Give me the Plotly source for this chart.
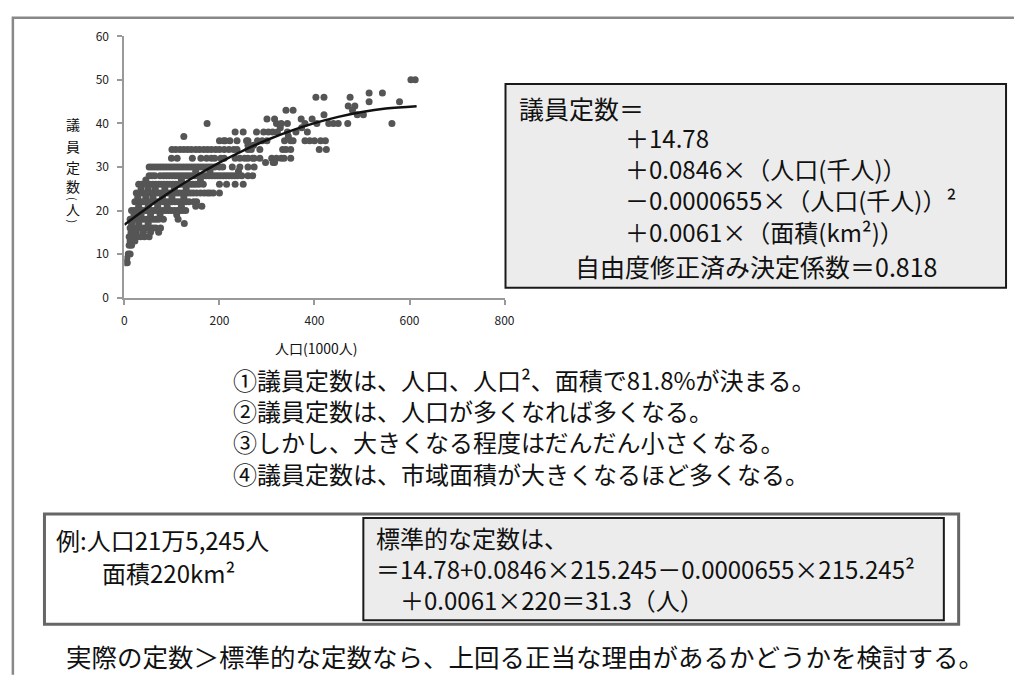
import plotly.graph_objects as go

W, H = 1019, 677
JP = "Noto Sans CJK JP"

# Council seats vs. population (thousands), grouped by seat count
seat_levels = [50, 47, 46, 45, 44, 43, 42, 41, 40, 39, 38, 37, 36, 35, 34, 32, 31, 30, 29,
               28, 27, 26, 25, 24, 23, 22, 21, 20, 19, 18, 17, 16, 15, 14, 13, 12, 10, 9, 8]
pop_by_level = [
    [603, 612],
    [515, 543],
    [403, 420, 475],
    [515, 579],
    [471, 485],
    [340, 355, 480],
    [420, 490, 503],
    [300, 316, 372, 395],
    [174, 320, 330, 343, 380, 405, 430, 440, 450, 470, 563],
    [328, 373],
    [233, 250, 278, 293, 303, 312, 322, 343, 361, 385],
    [125, 345],
    [200, 209, 212, 222, 237, 257, 260, 280, 290, 300, 337, 350, 355, 380, 390, 400, 413, 423],
    [260, 263, 272],
    [100, 108, 117, 125, 133, 141, 150, 158, 167, 175, 183, 192, 200, 210, 220, 230, 237,
     260, 267, 285, 333, 340, 350, 410, 425],
    [99, 111, 143, 161, 173, 183, 190, 203, 210, 233, 243, 253, 260, 270, 273, 285, 310,
     320, 330, 336, 350],
    [297, 313, 316],
    [52, 58, 64, 70, 76, 82, 88, 94, 100, 106, 112, 118, 124, 130, 136, 142, 148, 154, 160,
     166, 172, 178, 184, 190, 200, 207, 227, 243, 260, 273],
    [150, 180, 240],
    [52, 58, 64, 75, 82, 88, 94, 100, 106, 112, 118, 124, 130, 136, 142, 148, 154, 160, 166,
     172, 178, 184, 190, 196, 202, 208, 214, 220, 226, 232, 238, 247, 260, 270],
    [45, 120, 160],
    [30, 36, 42, 48, 54, 60, 66, 72, 78, 84, 90, 96, 102, 108, 114, 120, 126, 132, 138, 144,
     150, 157, 166, 200, 215, 233, 250],
    [35, 50, 65, 85, 105, 130],
    [25, 31, 37, 43, 49, 55, 61, 67, 73, 79, 85, 91, 97, 103, 109, 115, 121, 127, 133, 139,
     145, 152, 160, 168, 175, 180, 187, 200],
    [28, 45, 60, 80, 100, 125],
    [22, 28, 34, 40, 46, 52, 58, 64, 70, 76, 82, 88, 94, 100, 106, 112, 118, 124, 130, 136,
     146, 152],
    [30, 50, 70, 90, 120, 150, 163],
    [15, 21, 27, 33, 39, 45, 51, 57, 63, 69, 75, 81, 87, 93, 99, 105, 111, 117, 123, 129],
    [20, 35, 55, 75, 110],
    [12, 18, 24, 30, 36, 42, 48, 54, 60, 66, 72, 82, 113],
    [15, 30, 50, 126],
    [12, 18, 24, 30, 36, 42, 48, 54, 60, 66, 76],
    [14, 25, 40, 55, 72],
    [10, 18, 26, 34, 42, 52],
    [12, 22],
    [10, 15],
    [8, 12],
    [5],
    [2, 6],
]

# Regression coefficients
INTERCEPT = 14.78
COEF_POP = 0.0846
COEF_POP2 = -0.0000655
COEF_AREA = 0.0061
MEAN_AREA_KM2 = 315
curve_pop = [0, 25, 50, 75, 100, 150, 200, 250, 300, 350, 400, 450, 500, 550, 615]

x_ticks = [0, 200, 400, 600, 800]
y_ticks = [0, 10, 20, 30, 40, 50, 60]

formula_terms = [
    "＋14.78",
    "＋0.0846×（人口(千人)）",
    "－0.0000655×（人口(千人)）²",
    "＋0.0061×（面積(km²)）",
]
findings = [
    "①議員定数は、人口、人口²、面積で81.8%が決まる。",
    "②議員定数は、人口が多くなれば多くなる。",
    "③しかし、大きくなる程度はだんだん小さくなる。",
    "④議員定数は、市域面積が大きくなるほど多くなる。",
]
example_calc = [
    "標準的な定数は、",
    "＝14.78+0.0846×215.245－0.0000655×215.245²",
    "　＋0.0061×220＝31.3（人）",
]

pop_pts, seat_pts = [], []
for s, pops in zip(seat_levels, pop_by_level):
    for p in pops:
        pop_pts.append(p)
        seat_pts.append(s)

curve_seats = [INTERCEPT + COEF_AREA * MEAN_AREA_KM2 + COEF_POP * p + COEF_POP2 * p * p
               for p in curve_pop]


def px(x):
    return x / W


def py(y):
    return 1 - y / H


fig = go.Figure()
fig.add_trace(go.Scatter(
    x=pop_pts, y=seat_pts, mode="markers",
    marker=dict(color="#555555", size=7, line=dict(width=0)),
    showlegend=False, hoverinfo="skip",
))
fig.add_trace(go.Scatter(
    x=curve_pop, y=curve_seats, mode="lines", line_shape="spline",
    line=dict(color="#111111", width=2.5),
    showlegend=False, hoverinfo="skip",
))

axis_common = dict(
    showgrid=False, zeroline=False, showline=True, linecolor="#999999", linewidth=2,
    ticks="outside", ticklen=5, tickcolor="#999999", tickwidth=1.5,
    tickfont=dict(family=JP, size=12, color="#222222"),
)
fig.update_xaxes(range=[0, 800], tickvals=x_ticks, domain=[px(123), px(508)],
                 ticklabelstandoff=6, **axis_common)
fig.update_yaxes(range=[0, 60], tickvals=y_ticks, domain=[py(295), py(27)],
                 ticklabelstandoff=6, **axis_common)

shapes = [
    # outer frame (open to the right/bottom)
    dict(type="path", xref="paper", yref="paper",
         path=f"M {px(10)} {py(H + 5)} L {px(10)} {py(8)} L {px(W + 5)} {py(8)}",
         line=dict(color="#888888", width=2.5)),
    # regression formula box
    dict(type="rect", xref="paper", yref="paper",
         x0=px(509), x1=px(1016), y0=py(285), y1=py(76),
         fillcolor="#ececec", line=dict(color="#1a1a1a", width=2), layer="below"),
    # example outer box
    dict(type="rect", xref="paper", yref="paper",
         x0=px(42), x1=px(968), y0=py(630), y1=py(517),
         fillcolor="white", line=dict(color="#666666", width=3), layer="below"),
    # example inner box
    dict(type="rect", xref="paper", yref="paper",
         x0=px(365), x1=px(953), y0=py(626), y1=py(521),
         fillcolor="#ececec", line=dict(color="#1a1a1a", width=2), layer="below"),
]

annotations = []


def label(text, x, y, size, anchor="left", color="#111111", angle=0):
    annotations.append(dict(
        text=text, x=px(x), y=py(y), xref="paper", yref="paper",
        xanchor=anchor, yanchor="middle", align="left", showarrow=False,
        textangle=angle, font=dict(family=JP, size=size, color=color),
    ))


# axis titles
label("人口(1000人)", 318, 347, 14, anchor="center")
for ch, yy in [("議", 117), ("員", 139), ("定", 161), ("数", 181), ("人", 204)]:
    label(ch, 71, yy, 14, anchor="center")
label("(", 71, 194, 11, anchor="center", angle=90)
label(")", 71, 217, 11, anchor="center", angle=90)

# formula box
label("議員定数＝", 521, 101, 25)
label("<br>".join(formula_terms), 628, 179, 24)
label("自由度修正済み決定係数＝0.818", 577, 263, 25)

# findings
label("<br>".join(findings), 231, 427, 24)

# worked example
label("例:人口21万5,245人", 52, 543, 24)
label("面積220km²", 98, 577, 24)
label("<br>".join(example_calc), 376, 573, 24)

label("実際の定数＞標準的な定数なら、上回る正当な理由があるかどうかを検討する。", 62, 662, 25.5)

fig.update_layout(
    width=W, height=H, autosize=False,
    margin=dict(l=0, r=0, t=0, b=0),
    paper_bgcolor="white", plot_bgcolor="white",
    shapes=shapes, annotations=annotations,
)

fig.write_html("out.html")
